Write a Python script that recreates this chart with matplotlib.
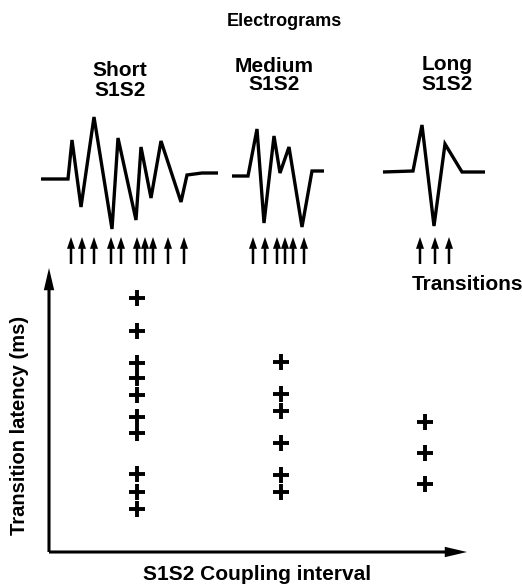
import matplotlib
matplotlib.use("Agg")
import matplotlib.pyplot as plt

plt.rcParams['font.family'] = ['Liberation Sans', 'DejaVu Sans']

W, H = 522, 588

# electrogram traces: time (arbitrary units) and amplitude
short_t = [41, 68, 72, 81, 94, 112, 118, 136, 141, 151, 161, 181, 187, 202, 218]
short_v = [-3, -3, 36, -31, 59, -53, 38, -44, 29, -22, 35, -26, 1, 3, 3]
medium_t = [232, 248, 257, 264, 274, 280, 289, 302, 312, 324]
medium_v = [0, 0, 47, -47, 40, 3, 29, -51, 5, 5]
long_t = [383, 413, 422, 434, 445, 462, 485]
long_v = [4, 5, 51, -50, 32, 4, 4]

# transition times marked with arrows below each trace
short_trans = [71, 82, 94, 111, 121, 137, 145, 153, 168, 184]
medium_trans = [253, 265, 277, 285, 293, 304]
long_trans = [420, 435, 449]

# transition latency versus coupling interval
coupling = {'Short': 1, 'Medium': 2, 'Long': 3}
short_lat = [127, 110.5, 94.5, 87, 78.5, 67.5, 59.5, 39, 30, 21.5]
medium_lat = [95, 79, 70.5, 54.5, 38.5, 30]
long_lat = [65, 49.5, 34]


def fx(px):
    return px / W


def fy(py):
    return 1 - py / H


fig = plt.figure(figsize=(W / 100, H / 100), dpi=100)
fig.patch.set_facecolor('white')

txt = dict(fontsize=15, fontweight='bold', color='black', ha='center', va='center')

# --- electrograms strip ---
eg = fig.add_axes([0, fy(270), 1, 170 / H])
eg.set_xlim(0, W)
eg.set_ylim(-94, 76)
eg.axis('off')
for t, v in [(short_t, short_v), (medium_t, medium_v), (long_t, long_v)]:
    eg.plot(t, v, color='black', lw=2.4, solid_joinstyle='miter', solid_capstyle='butt')

for tt in short_trans + medium_trans + long_trans:
    eg.annotate('', xy=(tt, -61), xytext=(tt, -88),
                arrowprops=dict(width=1.8, headwidth=5.8, headlength=8.5,
                                facecolor='black', edgecolor='black', lw=0))

fig.text(fx(284), fy(21), 'Electrograms', **{**txt, 'fontsize': 13})
fig.text(fx(120), fy(71), 'Short', **txt)
fig.text(fx(120), fy(90), 'S1S2', **txt)
fig.text(fx(274), fy(66), 'Medium', **txt)
fig.text(fx(274), fy(85), 'S1S2', **txt)
fig.text(fx(447), fy(65), 'Long', **txt)
fig.text(fx(447), fy(85), 'S1S2', **txt)
fig.text(fx(467), fy(285), 'Transitions', **txt)

# --- latency plot ---
ax = fig.add_axes([fx(49), fy(552), fx(467) - fx(49), (552 - 268) / H])
ax.set_xlim(0.389, 3.292)
ax.set_ylim(0, 142)
ax.axis('off')
for name, lat in [('Short', short_lat), ('Medium', medium_lat), ('Long', long_lat)]:
    ax.plot([coupling[name]] * len(lat), lat, linestyle='none', marker='+',
            markersize=12, mew=2.8, color='black')

arrow = dict(width=2.2, headwidth=7.5, headlength=16, facecolor='black',
             edgecolor='black', lw=0)
ax.annotate('', xy=(0, 1), xytext=(0, 0), xycoords='axes fraction', arrowprops=arrow)
ax.annotate('', xy=(1, 0), xytext=(0, 0), xycoords='axes fraction', arrowprops=arrow)

fig.text(fx(257), fy(575), 'S1S2 Coupling interval', **txt)
fig.text(fx(20), fy(425), 'Transition latency (ms)', rotation=90, **{**txt, 'fontsize': 14.5})

fig.savefig('out.png', dpi=100)
